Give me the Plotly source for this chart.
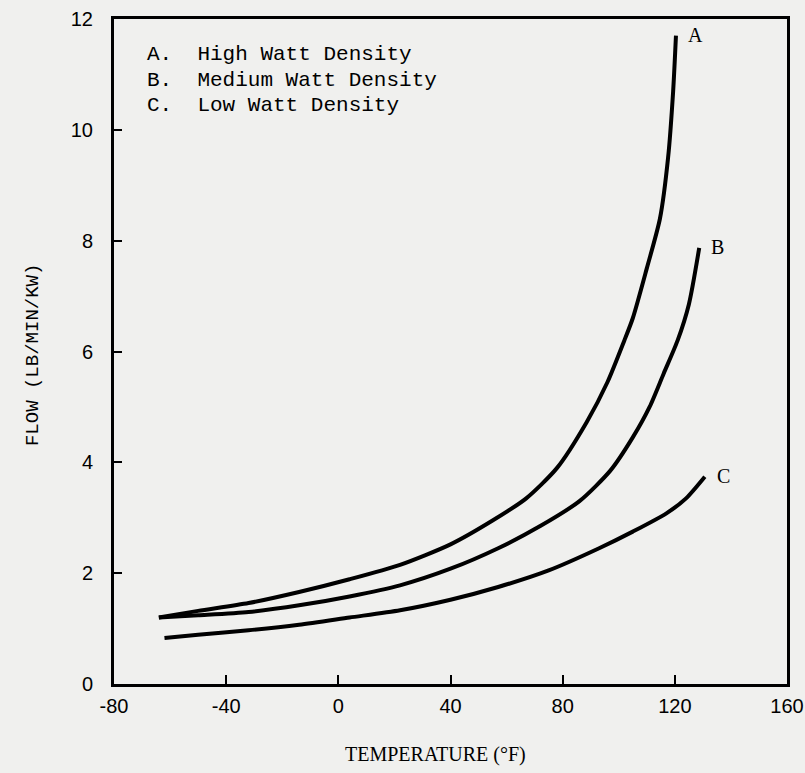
import plotly.graph_objects as go

# Curve A: High Watt Density
a_temp = [-64, -50, -32, -14, 4, 22, 40, 55, 67, 78, 88.5, 96, 102, 105, 110, 114.7, 117.6, 119.4, 120.4]
a_flow = [1.20, 1.32, 1.46, 1.66, 1.89, 2.15, 2.52, 2.95, 3.35, 3.90, 4.72, 5.45, 6.20, 6.60, 7.50, 8.40, 9.50, 10.70, 11.70]

# Curve B: Medium Watt Density
b_temp = [-64, -50, -32, -14, 4, 22, 40, 57, 72, 86, 97, 105, 111, 116, 121, 125, 128.7]
b_flow = [1.20, 1.24, 1.30, 1.42, 1.58, 1.78, 2.08, 2.45, 2.85, 3.30, 3.85, 4.45, 5.00, 5.60, 6.20, 6.85, 7.87]

# Curve C: Low Watt Density
c_temp = [-62, -50, -32, -14, 4, 22, 40, 57, 75, 93, 105, 117, 124, 130.7]
c_flow = [0.83, 0.89, 0.97, 1.07, 1.20, 1.33, 1.52, 1.75, 2.05, 2.45, 2.75, 3.08, 3.35, 3.74]

curve_labels = ["A", "B", "C"]
legend_lines = ["A.  High Watt Density", "B.  Medium Watt Density", "C.  Low Watt Density"]

x_ticks = [-80, -40, 0, 40, 80, 120, 160]
y_ticks = [0, 2, 4, 6, 8, 10, 12]

bg = "#f0f0ee"
fig = go.Figure()
for xs, ys in [(a_temp, a_flow), (b_temp, b_flow), (c_temp, c_flow)]:
    fig.add_trace(go.Scatter(x=xs, y=ys, mode="lines",
                             line=dict(color="black", width=4, shape="spline", smoothing=0.7),
                             showlegend=False, hoverinfo="skip"))

# Curve end labels
for lab, xs, ys in [(curve_labels[0], a_temp, a_flow), (curve_labels[1], b_temp, b_flow), (curve_labels[2], c_temp, c_flow)]:
    fig.add_annotation(x=xs[-1], y=ys[-1], text=lab, showarrow=False,
                       xanchor="left", yanchor="middle", xshift=10, yshift=1,
                       font=dict(family="Liberation Serif", size=20, color="black"))

# Legend text lines
for i, line in enumerate(legend_lines):
    y_px = 55 + i * 25.5
    fig.add_annotation(xref="paper", yref="paper", x=(145 - 114.5) / 672.5, y=(684.5 - y_px) / 665.2,
                       text=line, showarrow=False, align="left",
                       xanchor="left", yanchor="middle",
                       font=dict(family="Liberation Mono", size=21, color="black"))

# X axis title
fig.add_annotation(xref="paper", yref="paper", x=(436 - 114.5) / 672.5, y=-(755 - 684.5) / 665.2,
                   text="TEMPERATURE (°F)", showarrow=False, xanchor="center", yanchor="middle",
                   font=dict(family="Liberation Serif", size=20, color="black"))

# Y axis title
fig.add_annotation(xref="paper", yref="paper", x=-(114.5 - 33) / 672.5, y=(684.5 - 355) / 665.2,
                   text="FLOW (LB/MIN/KW)", showarrow=False, textangle=-90,
                   xanchor="center", yanchor="middle",
                   font=dict(family="Liberation Mono", size=19, color="black"))

fig.update_layout(
    width=805, height=773,
    margin=dict(l=114, r=18, t=19, b=89, autoexpand=False),
    paper_bgcolor=bg, plot_bgcolor=bg,
    font=dict(family="Liberation Sans", size=20, color="black"),
)
fig.update_xaxes(range=[-80, 160], tickvals=x_ticks, ticktext=[str(v) for v in x_ticks],
                 showgrid=False, zeroline=False, showline=True, linecolor="black", linewidth=3,
                 mirror=True, ticks="inside", ticklen=9, tickwidth=2, tickcolor="black",
                 ticklabelstandoff=2, automargin=False, tickfont=dict(family="Liberation Sans", size=20))
fig.update_yaxes(range=[0, 12], tickvals=y_ticks, ticktext=[str(v) for v in y_ticks],
                 showgrid=False, zeroline=False, showline=True, linecolor="black", linewidth=3,
                 mirror=True, ticks="inside", ticklen=8, tickwidth=2, tickcolor="black",
                 ticklabelstandoff=14, automargin=False, tickfont=dict(family="Liberation Sans", size=20))

fig.write_html("out.html")
